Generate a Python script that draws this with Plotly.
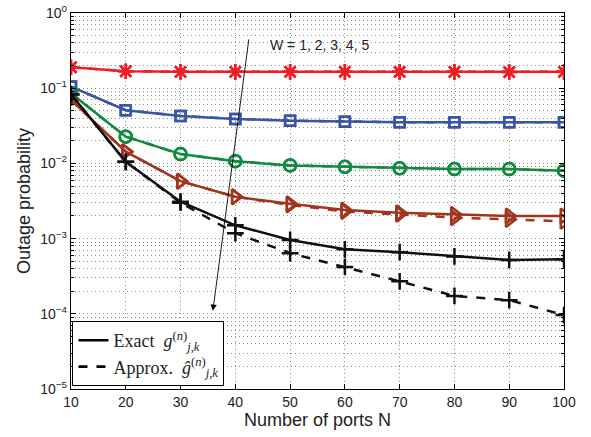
import plotly.graph_objects as go

N = [10, 20, 30, 40, 50, 60, 70, 80, 90, 100]

w1_exact = [0.19, 0.168, 0.165, 0.165, 0.165, 0.165, 0.165, 0.165, 0.164, 0.165]
w1_approx = [0.19, 0.168, 0.165, 0.165, 0.165, 0.165, 0.165, 0.165, 0.164, 0.165]
w2_exact = [0.105, 0.051, 0.0427, 0.039, 0.037, 0.0359, 0.0353, 0.0352, 0.0352, 0.0352]
w2_approx = [0.105, 0.051, 0.0427, 0.039, 0.037, 0.0359, 0.0353, 0.0352, 0.0352, 0.0352]
w3_exact = [0.0855, 0.0227, 0.0133, 0.0107, 0.0094, 0.0090, 0.0086, 0.0084, 0.0084, 0.0080]
w3_approx = [0.0855, 0.0227, 0.0133, 0.0107, 0.0094, 0.0090, 0.0086, 0.0084, 0.0084, 0.0080]
w4_exact = [0.070, 0.0143, 0.0058, 0.0036, 0.0029, 0.0024, 0.0022, 0.0021, 0.0020, 0.0020]
w4_approx = [0.070, 0.0143, 0.0058, 0.0036, 0.0028, 0.0023, 0.0021, 0.0019, 0.0018, 0.0017]
w5_exact = [0.083, 0.0105, 0.0031, 0.0015, 0.00096, 0.00072, 0.00066, 0.00058, 0.00052, 0.00053]
w5_approx = [0.083, 0.0105, 0.0030, 0.00118, 0.00064, 0.00042, 0.00027, 0.000173, 0.000152, 0.0000963]

y_tickvals = [1e-5, 1e-4, 1e-3, 1e-2, 1e-1, 1]
y_ticktext = ["10<sup>−5</sup>", "10<sup>−4</sup>", "10<sup>−3</sup>", "10<sup>−2</sup>", "10<sup>−1</sup>", "10<sup>0</sup>"]

series = [
    ("W=1", w1_exact, w1_approx, "#EE1D25", "asterisk-open", 13),
    ("W=2", w2_exact, w2_approx, "#3A54A6", "square-open", 10),
    ("W=3", w3_exact, w3_approx, "#108A3E", "circle-open", 12),
    ("W=4", w4_exact, w4_approx, "#A0341E", "triangle-right-open", 13),
    ("W=5", w5_exact, w5_approx, "#111111", "cross-thin-open", 12),
]

fig = go.Figure()
for name, ex, ap, col, sym, sz in series:
    fig.add_trace(go.Scatter(
        x=N, y=ap, mode="lines+markers", showlegend=False,
        line=dict(color=col, width=2.5, dash="dash"),
        marker=dict(symbol=sym, size=sz, color=col, line=dict(color=col, width=2.5)),
    ))
    fig.add_trace(go.Scatter(
        x=N, y=ex, mode="lines+markers", showlegend=False,
        line=dict(color=col, width=2.5),
        marker=dict(symbol=sym, size=sz, color=col, line=dict(color=col, width=2.5)),
    ))

# legend entries
fig.add_trace(go.Scatter(
    x=[None], y=[None], mode="lines", name="Exact  <i>g</i><sup>(<i>n</i>)</sup><sub><i>j,k</i></sub>",
    line=dict(color="black", width=2.6),
))
fig.add_trace(go.Scatter(
    x=[None], y=[None], mode="lines", name="Approx.  <i>ĝ</i><sup>(<i>n</i>)</sup><sub><i>j,k</i></sub>",
    line=dict(color="black", width=2.6, dash="dash"),
))

fig.add_annotation(
    x=35.9, y=-3.96, ax=42.5, ay=-0.33, xref="x", yref="y", axref="x", ayref="y",
    showarrow=True, arrowhead=2, arrowsize=1.4, arrowwidth=0.9, arrowcolor="black", text="",
)
fig.add_annotation(
    x=46.0, y=-0.42, xref="x", yref="y", xanchor="left", yanchor="middle",
    text="W = 1, 2, 3, 4, 5", showarrow=False,
    font=dict(family="Liberation Sans, Arial", size=14, color="#222"),
)

grid_col = "#8c8c8c"
gdash = "1px,3px"
fig.update_xaxes(
    range=[10, 100], tickvals=N, ticks="inside", ticklen=5, tickcolor="black",
    showline=True, linecolor="black", linewidth=1.3, mirror="ticks",
    showgrid=True, gridcolor=grid_col, griddash=gdash, gridwidth=1,
    zeroline=False, automargin=False,
    title=dict(text="Number of ports N", font=dict(size=18, color="#222"), standoff=2),
    tickfont=dict(size=14, color="#222"),
)
fig.update_yaxes(
    type="log", range=[-5, 0], tickvals=y_tickvals, ticktext=y_ticktext,
    ticks="inside", ticklen=5, tickcolor="black",
    showline=True, linecolor="black", linewidth=1.3, mirror="ticks",
    showgrid=True, gridcolor=grid_col, griddash=gdash, gridwidth=1,
    minor=dict(ticks="inside", ticklen=3, tickcolor="black", showgrid=True,
               gridcolor=grid_col, griddash=gdash, gridwidth=1, dtick="D1"),
    zeroline=False, automargin=False,
    title=dict(text="Outage probability", font=dict(size=18, color="#222"), standoff=4),
    tickfont=dict(size=14, color="#222"),
)

fig.update_layout(
    width=591, height=437,
    margin=dict(l=71, r=27, t=13, b=48),
    paper_bgcolor="white", plot_bgcolor="white",
    font=dict(family="Liberation Sans, Arial"),
    legend=dict(
        x=0.003, y=0.008, xanchor="left", yanchor="bottom",
        bgcolor="white", bordercolor="black", borderwidth=1,
        font=dict(family="Liberation Serif, Times New Roman", size=18, color="#222"),
        tracegroupgap=4,
    ),
)

fig.write_html("out.html")
